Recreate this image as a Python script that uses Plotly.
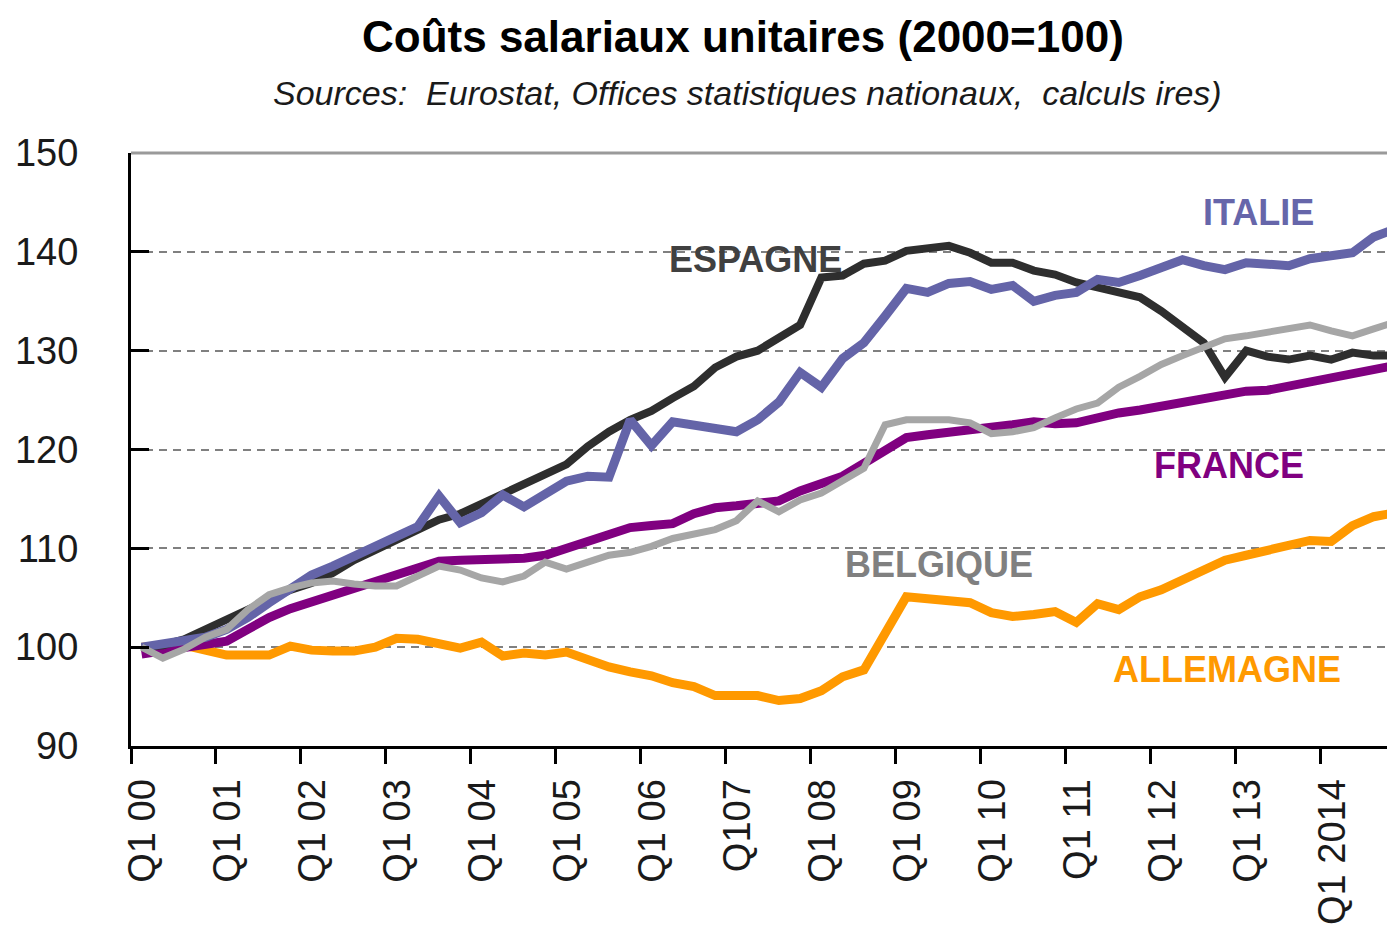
import plotly.graph_objects as go

years = list(range(2000, 2015))
quarters = [f"Q{q} {y}" for y in years for q in (1, 2, 3, 4)]

tick_labels = ["Q1 00", "Q1 01", "Q1 02", "Q1 03", "Q1 04", "Q1 05", "Q1 06", "Q107",
               "Q1 08", "Q1 09", "Q1 10", "Q1 11", "Q1 12", "Q1 13", "Q1 2014"]

allemagne = [100.0, 100.1, 100.2, 99.7, 99.2, 99.2, 99.2, 100.1, 99.7, 99.6,
             99.6, 100.0, 100.9, 100.8, 100.4, 99.9, 100.5, 99.1, 99.4, 99.2,
             99.5, 98.7, 98.0, 97.5, 97.1, 96.4, 96.0, 95.1, 95.1, 95.1,
             94.6, 94.8, 95.6, 97.0, 97.7, 101.5, 105.1, 104.9, 104.8, 104.5,
             103.5, 103.1, 103.3, 103.6, 102.5, 104.4, 103.8, 105.1, 105.8, 106.8,
             107.7, 108.8, 109.3, 109.8, 110.5, 110.8, 110.7, 112.3, 113.2, 113.6]

france = [99.3, 99.6, 100.1, 100.3, 100.6, 101.8, 103.0, 103.9, 104.6, 105.2,
          106.1, 106.8, 107.4, 108.0, 108.7, 108.8, 108.8, 108.8, 109.0, 109.3,
          110.0, 110.8, 111.5, 112.1, 112.3, 112.5, 113.5, 114.1, 114.3, 114.5,
          114.8, 115.8, 116.5, 117.3, 118.6, 119.8, 121.2, 121.5, 121.7, 122.0,
          122.3, 122.5, 122.8, 122.6, 122.7, 123.3, 123.7, 124.0, 124.4, 124.8,
          125.2, 125.6, 125.9, 126.0, 126.4, 126.8, 127.3, 127.8, 128.2, 128.5]

espagne = [100.0, 100.2, 100.8, 101.8, 102.8, 103.8, 104.8, 105.8, 106.5, 107.5,
           108.8, 109.8, 110.8, 111.8, 112.9, 113.5, 114.5, 115.5, 116.5, 117.3,
           118.5, 120.3, 121.8, 123.0, 123.9, 125.2, 126.4, 128.3, 129.4, 130.0,
           131.3, 132.6, 137.4, 137.6, 138.8, 139.1, 140.1, 140.3, 140.6, 139.9,
           138.9, 138.9, 138.1, 137.7, 136.9, 136.4, 135.9, 135.4, 134.0, 132.4,
           130.8, 127.3, 130.0, 129.4, 129.1, 129.5, 129.1, 129.8, 129.5, 129.5]

italie = [100.0, 100.4, 100.8, 101.0, 101.8, 103.0, 104.5, 106.0, 107.3, 108.2,
          109.2, 110.2, 111.2, 112.2, 115.3, 112.6, 113.6, 115.4, 114.2, 115.6,
          116.8, 117.3, 117.2, 123.0, 120.4, 122.8, 122.5, 122.3, 121.8, 123.0,
          124.8, 127.8, 126.3, 129.2, 130.8, 133.5, 136.3, 135.9, 136.8, 137.0,
          136.2, 136.6, 135.0, 135.6, 135.9, 137.2, 136.9, 137.6, 138.3, 139.2,
          138.6, 138.2, 138.9, 138.8, 138.6, 139.3, 139.6, 139.9, 141.5, 142.3]

belgique = [100.0, 98.9, 99.8, 101.0, 101.8, 103.8, 105.3, 106.0, 106.5, 106.7,
            106.4, 106.2, 106.2, 107.2, 108.2, 107.8, 107.0, 106.6, 107.2, 108.6,
            107.9, 108.6, 109.3, 109.6, 110.2, 111.0, 111.5, 111.9, 112.8, 114.8,
            113.7, 114.9, 115.6, 116.8, 118.1, 122.5, 123.0, 123.0, 123.0, 122.7,
            121.6, 121.8, 122.2, 123.2, 124.1, 124.7, 126.3, 127.4, 128.6, 129.5,
            130.4, 131.2, 131.5, 131.9, 132.3, 132.6, 132.0, 131.5, 132.2, 132.9]

x = list(range(len(quarters)))
tick_pos = [quarters.index(f"Q1 {y}") - 0.5 for y in years]

series = [
    ("ALLEMAGNE", allemagne, "#FF9900", 9),
    ("FRANCE", france, "#800080", 9),
    ("ESPAGNE", espagne, "#2E2E2E", 8),
    ("ITALIE", italie, "#6464A8", 9),
    ("BELGIQUE", belgique, "#A6A6A6", 7),
]

fig = go.Figure()
for name, vals, color, w in series:
    fig.add_trace(go.Scatter(x=x, y=vals, mode="lines", name=name,
                             line=dict(color=color, width=w), hoverinfo="skip"))

label_font = "Liberation Sans, Arial, sans-serif"
labels = [
    ("ESPAGNE", 28.9, 139.2, "#404040"),
    ("ITALIE", 52.6, 144.0, "#6666AA"),
    ("FRANCE", 51.2, 118.4, "#800080"),
    ("BELGIQUE", 37.55, 108.4, "#808080"),
    ("ALLEMAGNE", 51.1, 97.7, "#FF9900"),
]
for txt, lx, ly, col in labels:
    fig.add_annotation(x=lx, y=ly, text=f"<b>{txt}</b>", showarrow=False,
                       font=dict(family=label_font, size=36, color=col),
                       xanchor="center", yanchor="middle")

fig.add_annotation(xref="paper", yref="paper", x=0.484, y=1.197,
                   text="<b>Coûts salariaux unitaires (2000=100)</b>", showarrow=False,
                   font=dict(family=label_font, size=44, color="#000000"),
                   xanchor="center", yanchor="middle")
fig.add_annotation(xref="paper", yref="paper", x=0.487, y=1.101,
                   text="<i>Sources:  Eurostat, Offices statistiques nationaux,  calculs ires)</i>",
                   showarrow=False,
                   font=dict(family=label_font, size=34, color="#1a1a1a"),
                   xanchor="center", yanchor="middle")

fig.add_shape(type="line", xref="paper", yref="paper", x0=0, x1=1, y0=1, y1=1,
              line=dict(color="#9a9a9a", width=3))

fig.update_layout(
    width=1395, height=931,
    margin=dict(l=120, r=7, t=145, b=193),
    paper_bgcolor="white", plot_bgcolor="white",
    showlegend=False,
    font=dict(family=label_font, color="#1a1a1a"),
)
fig.update_xaxes(
    range=[-0.5, 59.05], tickmode="array", tickvals=tick_pos, ticktext=tick_labels,
    tickangle=-90, ticks="outside", ticklen=15, tickwidth=3, tickcolor="#000",
    ticklabelshift=12,
    showline=True, linewidth=3, linecolor="#000", showgrid=False, zeroline=False,
    tickfont=dict(family=label_font, size=38, color="#1a1a1a"),
)
fig.update_yaxes(
    range=[90, 150], tickmode="array", tickvals=[90, 100, 110, 120, 130, 140, 150],
    ticks="inside", ticklen=18, tickwidth=3, tickcolor="#000",
    showline=True, linewidth=3, linecolor="#000",
    showgrid=True, gridcolor="#808080", gridwidth=2, griddash="8px,6px",
    zeroline=False, ticklabelstandoff=42,
    tickfont=dict(family=label_font, size=38, color="#1a1a1a"),
)

fig.write_html("out.html")
